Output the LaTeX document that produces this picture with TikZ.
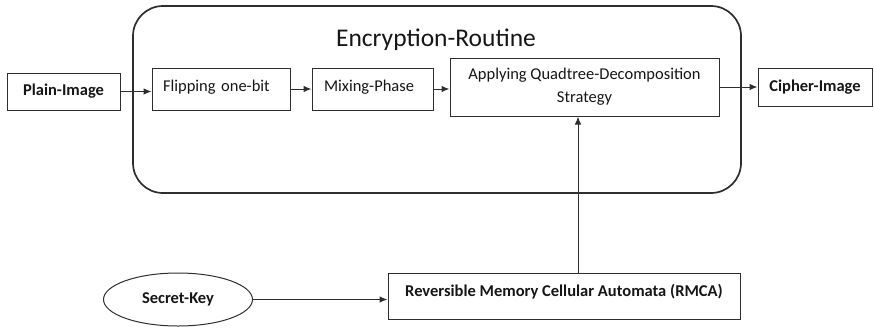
\documentclass[tikz,border=0pt]{standalone}
\usepackage{fontspec}
\setmainfont{Carlito}
\usetikzlibrary{arrows.meta,shapes.geometric}

\definecolor{ink}{HTML}{161616}
\definecolor{edge}{HTML}{2E2E2E}

\tikzset{
  box/.style={draw=edge, line width=1pt, rectangle, inner sep=0pt,
    text=ink, font=\fontsize{16.5}{23}\selectfont},
  boldbox/.style={box, font=\fontsize{16.5}{23}\selectfont\bfseries},
  flow/.style={draw=edge, line width=1pt, -{Latex[length=8pt,width=6.5pt]}},
}

\begin{document}
\begin{tikzpicture}[x=1pt, y=-1pt]
  \useasboundingbox (0,0) rectangle (874,327);

  % routine frame and its title
  \draw[edge, line width=1.7pt, rounded corners=30pt] (133,6) rectangle (741,193);
  \node[text=ink, font=\fontsize{25.5}{30}\selectfont] (title) at (436,40) {Encryption-Routine};

  % main stages
  \node[boldbox, minimum width=113pt, minimum height=37pt] (plain) at (63.5,91.5) {Plain-Image};
  \node[box, minimum width=138pt, minimum height=42pt, text width=116pt, align=left,
        text height=12pt, text depth=7.4pt] (flip) at (221,89) {Flipping one-bit};
  \node[box, minimum width=121pt, minimum height=42pt, text width=97pt, align=left,
        text height=12pt, text depth=7.4pt] (mix) at (372.5,89) {Mixing-Phase};
  \node[box, minimum width=269pt, minimum height=58pt, align=center] (apply) at (584.5,87)
        {Applying Quadtree-Decomposition\\Strategy};
  \node[boldbox, minimum width=114pt, minimum height=38pt] (cipher) at (815,87) {Cipher-Image};

  % key schedule
  \node[draw=edge, line width=1pt, ellipse, minimum width=149pt, minimum height=53pt,
        inner sep=0pt, text=ink, font=\fontsize{16.5}{23}\selectfont\bfseries] (secret) at (178,299.5) {Secret-Key};
  \node[boldbox, minimum width=352pt, minimum height=46pt, text height=12pt, text depth=12pt]
        (rmca) at (564,296) {Reversible Memory Cellular Automata (RMCA)};

  % connectors
  \draw[flow] (plain.east) -- (plain.east -| flip.west);
  \draw[flow] (flip.east) -- (mix.west);
  \draw[flow] (mix.east) -- (mix.east -| apply.west);
  \draw[flow] (apply.east) -- (cipher.west);
  \draw[flow] (secret.east) -- (secret.east -| rmca.west);
  \draw[flow] ([xshift=-6.5pt]apply.south |- rmca.north) -- ([xshift=-6.5pt]apply.south);
\end{tikzpicture}
\end{document}
